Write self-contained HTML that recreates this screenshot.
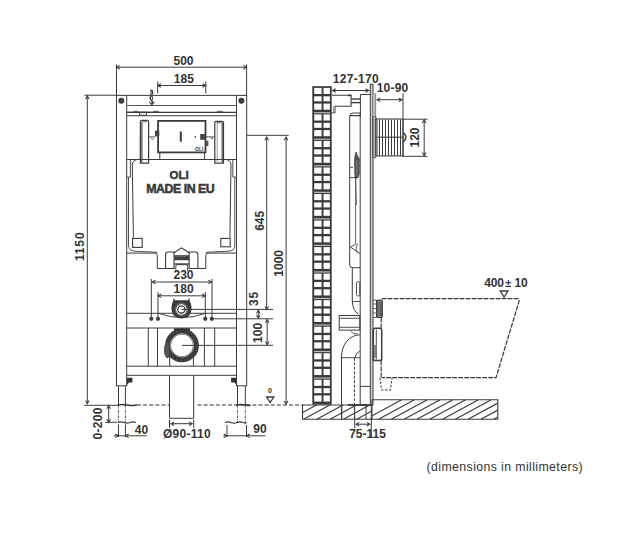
<!DOCTYPE html>
<html><head><meta charset="utf-8"><style>
html,body{margin:0;padding:0;background:#fff;}
svg{display:block;font-family:"Liberation Sans",sans-serif;}
</style></head><body>
<svg width="618" height="535" viewBox="0 0 618 535">
<rect width="618" height="535" fill="#fff"/>
<line x1="116.5" y1="64.4" x2="116.5" y2="95.5" stroke="#3c3c3c" stroke-width="1" />
<line x1="246.6" y1="64.4" x2="246.6" y2="95.5" stroke="#3c3c3c" stroke-width="1" />
<line x1="116.5" y1="67.2" x2="246.6" y2="67.2" stroke="#3c3c3c" stroke-width="1" />
<path d="M119.7,65.4 L116.5,67.2 L119.7,69.0" stroke="#3c3c3c" stroke-width="1.05" fill="none" />
<path d="M243.4,65.4 L246.6,67.2 L243.4,69.0" stroke="#3c3c3c" stroke-width="1.05" fill="none" />
<text x="183.5" y="65.4" font-size="12" font-weight="bold" text-anchor="middle" fill="#333" letter-spacing="0" >500</text>
<line x1="157.7" y1="81.5" x2="157.7" y2="93.5" stroke="#3c3c3c" stroke-width="1" />
<line x1="205.8" y1="81.5" x2="205.8" y2="93.5" stroke="#3c3c3c" stroke-width="1" />
<line x1="157.7" y1="85.5" x2="205.8" y2="85.5" stroke="#3c3c3c" stroke-width="1" />
<path d="M160.89999999999998,83.7 L157.7,85.5 L160.89999999999998,87.3" stroke="#3c3c3c" stroke-width="1.05" fill="none" />
<path d="M202.60000000000002,83.7 L205.8,85.5 L202.60000000000002,87.3" stroke="#3c3c3c" stroke-width="1.05" fill="none" />
<text x="183.8" y="82.6" font-size="12" font-weight="bold" text-anchor="middle" fill="#333" letter-spacing="0" >185</text>
<line x1="84.4" y1="95.2" x2="116.5" y2="95.2" stroke="#3c3c3c" stroke-width="1" />
<line x1="87.3" y1="95.8" x2="87.3" y2="403.8" stroke="#3c3c3c" stroke-width="1" />
<path d="M85.5,99.0 L87.3,95.8 L89.1,99.0" stroke="#3c3c3c" stroke-width="1.05" fill="none" />
<path d="M85.5,400.6 L87.3,403.8 L89.1,400.6" stroke="#3c3c3c" stroke-width="1.05" fill="none" />
<line x1="84.2" y1="405.3" x2="118" y2="405.3" stroke="#3c3c3c" stroke-width="1" />
<text x="84.4" y="246.3" font-size="12" font-weight="bold" text-anchor="middle" fill="#333" letter-spacing="0.9" transform="rotate(-90 84.4 246.3)" >1150</text>
<rect x="116.5" y="95.4" width="10.2" height="290.4" stroke="#3c3c3c" stroke-width="1" fill="none" />
<rect x="236.5" y="95.4" width="10.2" height="290.4" stroke="#3c3c3c" stroke-width="1" fill="none" />
<circle cx="121.3" cy="100.8" r="3" fill="#3c3c3c"/>
<circle cx="241.4" cy="100.8" r="3" fill="#3c3c3c"/>
<line x1="126.7" y1="95.4" x2="236.5" y2="95.4" stroke="#3c3c3c" stroke-width="1" />
<line x1="126.7" y1="105.5" x2="236.5" y2="105.5" stroke="#555" stroke-width="1" />
<line x1="126.7" y1="112.4" x2="236.5" y2="112.4" stroke="#3c3c3c" stroke-width="1.1" />
<line x1="126.7" y1="115.8" x2="236.5" y2="115.8" stroke="#3c3c3c" stroke-width="1.1" />
<path d="M150.3,90 Q154,91.5 152,94.5 Q149,97.5 151,100 Q153.5,102 151.8,104.3" stroke="#444" stroke-width="1.5" fill="none" />
<path d="M153,90.3 Q149.5,93 151.3,95.5 Q153.8,98 151.5,101" stroke="#555" stroke-width="1.2" fill="none" />
<path d="M149.3,101.8 L151.8,104.6 L154.3,101.8" stroke="#444" stroke-width="1.2" fill="none" />
<path d="M126.7,112.2 L132.8,112.2 Q133.2,111.3 135,111.3 L137,111.3 Q138.4,111.3 138.6,112.2 L152.7,112.2 Q153,111.3 155,111.3 L157,111.3 Q158.8,111.3 159,112.2" stroke="#3c3c3c" stroke-width="0.9" fill="none" />
<rect x="139.6" y="112.2" width="6.8" height="2.9" stroke="#3c3c3c" stroke-width="0.9" fill="none" />
<path d="M216.5,112.2 Q216.8,111.3 218.5,111.3 L221,111.3 Q222.6,111.3 222.8,112.2" stroke="#3c3c3c" stroke-width="0.9" fill="none" />
<path d="M140.4,163.1 L140.4,121.5 Q140.4,120.3 141.6,120.3 L147.4,120.3 Q148.6,120.3 148.6,121.5 L148.6,163.1 Z" stroke="#3c3c3c" stroke-width="1.2" fill="none" />
<line x1="141.9" y1="122" x2="141.9" y2="162.5" stroke="#3c3c3c" stroke-width="1.1" />
<path d="M142.2,121.8 L147,121.8" stroke="#3c3c3c" stroke-width="0.8" fill="none" />
<line x1="139.4" y1="136" x2="139.4" y2="160" stroke="#999" stroke-width="0.6" stroke-dasharray="1 1"/>
<path d="M214.8,163.1 L214.8,122.5 Q214.8,121.3 216,121.3 L222.3,121.3 Q223.5,121.3 223.5,122.5 L223.5,163.1 Z" stroke="#3c3c3c" stroke-width="1.2" fill="none" />
<line x1="222.2" y1="122.5" x2="222.2" y2="162.5" stroke="#3c3c3c" stroke-width="1.1" />
<line x1="217.2" y1="123" x2="217.2" y2="162" stroke="#777" stroke-width="0.7" />
<path d="M216.5,122.8 L221.5,122.8" stroke="#3c3c3c" stroke-width="0.8" fill="none" />
<rect x="158.1" y="120.9" width="47.4" height="31.5" stroke="#3c3c3c" stroke-width="1.8" fill="none" />
<line x1="159.8" y1="152.4" x2="159.8" y2="159.5" stroke="#3c3c3c" stroke-width="1" />
<line x1="204.6" y1="152.4" x2="204.6" y2="159.5" stroke="#3c3c3c" stroke-width="1" />
<line x1="126.7" y1="159.5" x2="236.5" y2="159.5" stroke="#3c3c3c" stroke-width="1" />
<line x1="180.8" y1="131.5" x2="180.8" y2="141.7" stroke="#3c3c3c" stroke-width="2" />
<rect x="155" y="130.6" width="4.3" height="5.8" stroke="#3c3c3c" stroke-width="0" fill="#444" />
<line x1="149.1" y1="136.9" x2="155" y2="136.9" stroke="#3c3c3c" stroke-width="0.9" />
<path d="M151.2,138.3 Q152.5,140.8 153.8,138.3" stroke="#3c3c3c" stroke-width="0.9" fill="none" />
<rect x="200.2" y="134" width="5.3" height="5.8" stroke="#3c3c3c" stroke-width="0" fill="#444" />
<line x1="205.5" y1="136.9" x2="214.8" y2="136.9" stroke="#3c3c3c" stroke-width="0.9" />
<path d="M210.5,137.8 Q211.8,140.2 213.1,137.8" stroke="#3c3c3c" stroke-width="0.9" fill="none" />
<rect x="206" y="140.8" width="2.4" height="5.2" stroke="#3c3c3c" stroke-width="0" fill="#555" />
<circle cx="195.3" cy="136.9" r="0.8" fill="#444"/>
<text x="199.2" y="150.6" font-size="5" font-weight="bold" text-anchor="middle" fill="#333" letter-spacing="0" >OLI</text>
<path d="M138.4,159.3 Q132.3,160 132.3,165 L133.4,237.5" stroke="#3c3c3c" stroke-width="1" fill="none" />
<path d="M225,159.3 Q231,160 231,165 L229.9,237.5" stroke="#3c3c3c" stroke-width="1" fill="none" />
<path d="M130.4,159.3 L130.4,177.1 L127,177.1" stroke="#3c3c3c" stroke-width="0.9" fill="none" />
<path d="M232.8,159.3 L232.8,177.1 L236.5,177.1" stroke="#3c3c3c" stroke-width="0.9" fill="none" />
<path d="M128.5,177.1 L128.5,245 Q128.5,251 135,251.2 L157.3,252.3" stroke="#3c3c3c" stroke-width="0.9" fill="none" />
<path d="M234.8,177.1 L234.8,245 Q234.8,251 228.3,251.2 L205.8,252.3" stroke="#3c3c3c" stroke-width="0.9" fill="none" />
<path d="M126.9,253.1 L155,253.1 Q157.3,253.1 157.3,255.5 L157.3,268.5 L175,268.5 M188.5,268.5 L205.8,268.5 L205.8,255.5 Q205.8,253.1 208,253.1 L236.5,253.1" stroke="#3c3c3c" stroke-width="1" fill="none" />
<rect x="132.6" y="238.4" width="9.6" height="9" stroke="#3c3c3c" stroke-width="1.1" fill="none" />
<rect x="220.8" y="238.4" width="9.4" height="8.4" stroke="#3c3c3c" stroke-width="1.1" fill="none" />
<path d="M165.6,268.5 L165.6,254.5 Q165.6,252 168,252 L174,252 L174,268.5" stroke="#3c3c3c" stroke-width="1.1" fill="none" />
<path d="M189.2,268.5 L189.2,252 L195.5,252 Q197.9,252 197.9,254.5 L197.9,268.5" stroke="#3c3c3c" stroke-width="1.1" fill="none" />
<path d="M174,252.7 L181.4,247.8 L189.2,252.7" stroke="#3c3c3c" stroke-width="1.1" fill="none" />
<rect x="174.3" y="255.2" width="14.7" height="5.3" stroke="#3c3c3c" stroke-width="0" fill="#404040" />
<line x1="176.5" y1="256.5" x2="187" y2="256.5" stroke="#999" stroke-width="0.6" stroke-dasharray="2 1.5"/>
<rect x="175.5" y="260.5" width="12.5" height="2.8" stroke="#3c3c3c" stroke-width="0" fill="#fff" />
<line x1="174.3" y1="264" x2="189" y2="264" stroke="#3c3c3c" stroke-width="1.4" />
<path d="M175.8,271 L175.8,266 Q175.8,264.7 177.5,264.7 L186,264.7 Q187.6,264.7 187.6,266 L187.6,271" stroke="#3c3c3c" stroke-width="0.9" fill="none" />
<text x="179.2" y="178.7" font-size="11.5" font-weight="bold" text-anchor="middle" fill="#3a3a3a" letter-spacing="0" stroke="#333" stroke-width="0.5">OLI</text>
<text x="180.3" y="192.5" font-size="12.4" font-weight="bold" text-anchor="middle" fill="#3a3a3a" letter-spacing="-0.5" stroke="#333" stroke-width="0.5">MADE IN EU</text>
<text x="183.5" y="278.5" font-size="12" font-weight="bold" text-anchor="middle" fill="#333" letter-spacing="0" >230</text>
<line x1="152.2" y1="282" x2="211.6" y2="282" stroke="#3c3c3c" stroke-width="1" />
<path d="M155.39999999999998,280.2 L152.2,282 L155.39999999999998,283.8" stroke="#3c3c3c" stroke-width="1.05" fill="none" />
<path d="M208.4,280.2 L211.6,282 L208.4,283.8" stroke="#3c3c3c" stroke-width="1.05" fill="none" />
<line x1="151.3" y1="279" x2="151.3" y2="318.8" stroke="#3c3c3c" stroke-width="1" />
<line x1="212" y1="279" x2="212" y2="318.8" stroke="#3c3c3c" stroke-width="1" />
<text x="183.6" y="293.3" font-size="12" font-weight="bold" text-anchor="middle" fill="#333" letter-spacing="0" >180</text>
<line x1="158" y1="295.8" x2="205.3" y2="295.8" stroke="#3c3c3c" stroke-width="1" />
<path d="M161.2,294.0 L158,295.8 L161.2,297.6" stroke="#3c3c3c" stroke-width="1.05" fill="none" />
<path d="M202.10000000000002,294.0 L205.3,295.8 L202.10000000000002,297.6" stroke="#3c3c3c" stroke-width="1.05" fill="none" />
<line x1="158" y1="292" x2="158" y2="318.8" stroke="#3c3c3c" stroke-width="1" />
<line x1="205.3" y1="292" x2="205.3" y2="318.8" stroke="#3c3c3c" stroke-width="1" />
<circle cx="151.3" cy="318.8" r="2.1" fill="#3c3c3c"/>
<circle cx="158" cy="318.8" r="2.1" fill="#3c3c3c"/>
<circle cx="205.3" cy="318.8" r="2.1" fill="#3c3c3c"/>
<circle cx="211.8" cy="318.8" r="2.1" fill="#3c3c3c"/>
<line x1="126.7" y1="313.3" x2="236.5" y2="313.3" stroke="#3c3c3c" stroke-width="1" />
<line x1="126.7" y1="328" x2="236.5" y2="328" stroke="#3c3c3c" stroke-width="1" />
<path d="M158.5,313.3 Q182,322 205.5,313.3" stroke="#3c3c3c" stroke-width="1" fill="none" />
<path d="M174,300.3 L189,300.3 Q191.2,302.5 191.5,307 Q191.8,313.5 188,316.5 Q185,318.4 181.5,318.4 Q178,318.4 175,316.5 Q171.2,313.5 171.5,307 Q171.8,302.5 174,300.3 Z" stroke="#3c3c3c" stroke-width="0" fill="#3a3a3a" />
<line x1="173.9" y1="298.8" x2="173.9" y2="302" stroke="#3c3c3c" stroke-width="1.3" />
<line x1="189" y1="298.8" x2="189" y2="302" stroke="#3c3c3c" stroke-width="1.3" />
<circle cx="181.4" cy="309.4" r="5.3" fill="#fff"/>
<circle cx="181.4" cy="309.4" r="3.6" fill="none" stroke="#3c3c3c" stroke-width="1.3"/>
<circle cx="181.4" cy="309.4" r="6.3" fill="none" stroke="#888" stroke-width="0.7"/>
<line x1="181.4" y1="309.4" x2="273" y2="309.4" stroke="#3c3c3c" stroke-width="1" />
<line x1="211.8" y1="318.8" x2="273" y2="318.8" stroke="#3c3c3c" stroke-width="1" />
<line x1="148.3" y1="328" x2="148.3" y2="366.2" stroke="#3c3c3c" stroke-width="1" />
<line x1="157.5" y1="328" x2="157.5" y2="366.2" stroke="#3c3c3c" stroke-width="1" />
<line x1="204.4" y1="328" x2="204.4" y2="366.2" stroke="#3c3c3c" stroke-width="1" />
<line x1="214.7" y1="328" x2="214.7" y2="366.2" stroke="#3c3c3c" stroke-width="1" />
<line x1="169.7" y1="356" x2="169.7" y2="366.2" stroke="#3c3c3c" stroke-width="1" />
<line x1="193.4" y1="356" x2="193.4" y2="366.2" stroke="#3c3c3c" stroke-width="1" />
<defs><clipPath id="cl2"><rect x="150" y="328.3" width="60" height="40"/></clipPath></defs>
<circle cx="182" cy="345.4" r="13.9" fill="none" stroke="#3a3a3a" stroke-width="6" clip-path="url(#cl2)"/>
<circle cx="182" cy="345.4" r="11.7" fill="none" stroke="#bbb" stroke-width="0.9"/>
<circle cx="182" cy="345.4" r="15" fill="none" stroke="#777" stroke-width="0.6" stroke-dasharray="1.5 2.5"/>
<path d="M168.5,340 Q163.5,345 164.5,352 Q165,357.5 168,358 L170,353 Z" stroke="#3c3c3c" stroke-width="0.8" fill="#555" />
<rect x="174" y="328.3" width="16" height="2.5" stroke="#3c3c3c" stroke-width="0" fill="#333" />
<line x1="182" y1="345.4" x2="273" y2="345.3" stroke="#3c3c3c" stroke-width="1" />
<line x1="126.7" y1="366.2" x2="236.5" y2="366.2" stroke="#3c3c3c" stroke-width="1" />
<line x1="126.7" y1="375.3" x2="236.5" y2="375.3" stroke="#3c3c3c" stroke-width="1" />
<path d="M127,377.8 L132.4,377.8 L132.4,382.6 L129,382.6 L127,385 Z" stroke="#3c3c3c" stroke-width="0" fill="#333" />
<path d="M236.5,377.8 L231.1,377.8 L231.1,382.6 L234.5,382.6 L236.5,385 Z" stroke="#3c3c3c" stroke-width="0" fill="#333" />
<path d="M169.5,375.3 L169.5,418.3 L193.7,418.3 L193.7,375.3" stroke="#3c3c3c" stroke-width="1" fill="none" />
<line x1="118.5" y1="385.8" x2="118.5" y2="405" stroke="#3c3c3c" stroke-width="1" />
<line x1="125.4" y1="385.8" x2="125.4" y2="405" stroke="#3c3c3c" stroke-width="1" />
<line x1="237.5" y1="385.8" x2="237.5" y2="405" stroke="#3c3c3c" stroke-width="1" />
<line x1="245.3" y1="385.8" x2="245.3" y2="405" stroke="#3c3c3c" stroke-width="1" />
<line x1="118.5" y1="405" x2="118.5" y2="423" stroke="#3c3c3c" stroke-width="0.9" stroke-dasharray="2.5 1 0.8 1"/>
<line x1="125.4" y1="405" x2="125.4" y2="423" stroke="#3c3c3c" stroke-width="0.9" stroke-dasharray="2.5 1 0.8 1"/>
<line x1="237.5" y1="405" x2="237.5" y2="423" stroke="#3c3c3c" stroke-width="0.9" stroke-dasharray="2.5 1 0.8 1"/>
<line x1="245.3" y1="405" x2="245.3" y2="423" stroke="#3c3c3c" stroke-width="0.9" stroke-dasharray="2.5 1 0.8 1"/>
<line x1="105" y1="422.3" x2="117" y2="422.3" stroke="#3c3c3c" stroke-width="1" />
<path d="M118,422.5 Q121,421.3 124,422.5 T130,422.5 T136,422.5" stroke="#3c3c3c" stroke-width="1.1" fill="none" />
<path d="M225,422.5 Q228,421.3 231,422.5 T237,422.5 T243,422.5 T247,422.5" stroke="#3c3c3c" stroke-width="1.1" fill="none" />
<line x1="137" y1="405" x2="169.5" y2="405" stroke="#333" stroke-width="1.2" stroke-dasharray="4 2.1"/>
<line x1="197.5" y1="405" x2="302.5" y2="405" stroke="#333" stroke-width="1.2" stroke-dasharray="4 2.1"/>
<path d="M117.7,405 Q122,404 127,405 T137,405" stroke="#3c3c3c" stroke-width="1.3" fill="none" />
<path d="M236,405 Q241,404 246,405 T250,405" stroke="#3c3c3c" stroke-width="1.3" fill="none" />
<line x1="108.7" y1="405.5" x2="108.7" y2="422.5" stroke="#3c3c3c" stroke-width="1" />
<path d="M106.9,408.7 L108.7,405.5 L110.5,408.7" stroke="#3c3c3c" stroke-width="1.05" fill="none" />
<path d="M106.9,419.3 L108.7,422.5 L110.5,419.3" stroke="#3c3c3c" stroke-width="1.05" fill="none" />
<text x="101.8" y="423.3" font-size="12" font-weight="bold" text-anchor="middle" fill="#333" letter-spacing="0.3" transform="rotate(-90 101.8 423.3)" >0-200</text>
<line x1="118.5" y1="424.4" x2="118.5" y2="437" stroke="#3c3c3c" stroke-width="1" />
<line x1="125.4" y1="424.4" x2="125.4" y2="437" stroke="#3c3c3c" stroke-width="1" />
<line x1="113.7" y1="435.8" x2="146.7" y2="435.8" stroke="#3c3c3c" stroke-width="1" />
<path d="M115.3,434.0 L118.5,435.8 L115.3,437.6" stroke="#3c3c3c" stroke-width="1.05" fill="none" />
<path d="M128.6,434.0 L125.4,435.8 L128.6,437.6" stroke="#3c3c3c" stroke-width="1.05" fill="none" />
<text x="141.5" y="433.7" font-size="12" font-weight="bold" text-anchor="middle" fill="#333" letter-spacing="0" >40</text>
<line x1="169.5" y1="419.7" x2="169.5" y2="428" stroke="#3c3c3c" stroke-width="1" />
<line x1="193.7" y1="419.7" x2="193.7" y2="428" stroke="#3c3c3c" stroke-width="1" />
<line x1="171" y1="423.7" x2="192.2" y2="423.7" stroke="#3c3c3c" stroke-width="1" />
<path d="M174.2,421.9 L171,423.7 L174.2,425.5" stroke="#3c3c3c" stroke-width="1.05" fill="none" />
<path d="M189.0,421.9 L192.2,423.7 L189.0,425.5" stroke="#3c3c3c" stroke-width="1.05" fill="none" />
<text x="187" y="438.3" font-size="12" font-weight="bold" text-anchor="middle" fill="#333" letter-spacing="0.3" >Ø90-110</text>
<line x1="227" y1="425" x2="227" y2="437" stroke="#3c3c3c" stroke-width="1" />
<line x1="246.5" y1="425" x2="246.5" y2="437" stroke="#3c3c3c" stroke-width="1" />
<line x1="223.3" y1="435.8" x2="265.5" y2="435.8" stroke="#3c3c3c" stroke-width="1" />
<path d="M223.8,434.0 L227,435.8 L223.8,437.6" stroke="#3c3c3c" stroke-width="1.05" fill="none" />
<path d="M249.7,434.0 L246.5,435.8 L249.7,437.6" stroke="#3c3c3c" stroke-width="1.05" fill="none" />
<text x="260" y="432.5" font-size="12" font-weight="bold" text-anchor="middle" fill="#333" letter-spacing="0" >90</text>
<path d="M266.6,397 L273.8,397 L270.2,402.6 Z" stroke="#3c3c3c" stroke-width="1.3" fill="none" />
<text x="270.1" y="393.2" font-size="7.2" font-weight="bold" text-anchor="middle" fill="#333" letter-spacing="0" >0</text>
<line x1="246.7" y1="135.3" x2="288.7" y2="135.3" stroke="#3c3c3c" stroke-width="1" />
<line x1="266.7" y1="137" x2="266.7" y2="309.7" stroke="#3c3c3c" stroke-width="1" />
<path d="M264.9,140.2 L266.7,137 L268.5,140.2" stroke="#3c3c3c" stroke-width="1.05" fill="none" />
<path d="M264.9,306.5 L266.7,309.7 L268.5,306.5" stroke="#3c3c3c" stroke-width="1.05" fill="none" />
<line x1="286.1" y1="137" x2="286.1" y2="404.2" stroke="#3c3c3c" stroke-width="1" />
<path d="M284.3,140.2 L286.1,137 L287.90000000000003,140.2" stroke="#3c3c3c" stroke-width="1.05" fill="none" />
<path d="M284.3,401.0 L286.1,404.2 L287.90000000000003,401.0" stroke="#3c3c3c" stroke-width="1.05" fill="none" />
<line x1="258.3" y1="310.3" x2="258.3" y2="318.2" stroke="#3c3c3c" stroke-width="1" />
<path d="M256.5,313.5 L258.3,310.3 L260.1,313.5" stroke="#3c3c3c" stroke-width="1.05" fill="none" />
<path d="M256.5,315.0 L258.3,318.2 L260.1,315.0" stroke="#3c3c3c" stroke-width="1.05" fill="none" />
<line x1="267.2" y1="319.5" x2="267.2" y2="344.8" stroke="#3c3c3c" stroke-width="1" />
<path d="M265.4,322.7 L267.2,319.5 L269.0,322.7" stroke="#3c3c3c" stroke-width="1.05" fill="none" />
<path d="M265.4,341.6 L267.2,344.8 L269.0,341.6" stroke="#3c3c3c" stroke-width="1.05" fill="none" />
<text x="263.8" y="220.8" font-size="12" font-weight="bold" text-anchor="middle" fill="#333" letter-spacing="0" transform="rotate(-90 263.8 220.8)" >645</text>
<text x="283.4" y="263.3" font-size="12" font-weight="bold" text-anchor="middle" fill="#333" letter-spacing="0" transform="rotate(-90 283.4 263.3)" >1000</text>
<text x="258.1" y="298.4" font-size="12" font-weight="bold" text-anchor="middle" fill="#333" letter-spacing="1" transform="rotate(-90 258.1 298.4)" >35</text>
<text x="262.3" y="332.9" font-size="12" font-weight="bold" text-anchor="middle" fill="#333" letter-spacing="0" transform="rotate(-90 262.3 332.9)" >100</text>
<rect x="313.15000000000003" y="87.05" width="17.699999999999978" height="316.70000000000005" fill="#3a3a3a" stroke="#3a3a3a" stroke-width="1.7"/>
<rect x="314.2" y="87.90" width="7.40" height="6.10" fill="#fff"/>
<rect x="323.5" y="87.90" width="6.40" height="6.10" fill="#fff"/>
<rect x="314.2" y="96.30" width="7.40" height="5.00" fill="#fff"/>
<rect x="323.5" y="96.30" width="6.40" height="5.00" fill="#fff"/>
<rect x="314.2" y="103.60" width="7.40" height="6.10" fill="#fff"/>
<rect x="323.5" y="103.60" width="6.40" height="6.10" fill="#fff"/>
<rect x="314.2" y="114.43" width="7.40" height="6.10" fill="#fff"/>
<rect x="323.5" y="114.43" width="6.40" height="6.10" fill="#fff"/>
<rect x="314.2" y="122.83" width="7.40" height="5.00" fill="#fff"/>
<rect x="323.5" y="122.83" width="6.40" height="5.00" fill="#fff"/>
<rect x="314.2" y="130.13" width="7.40" height="6.10" fill="#fff"/>
<rect x="323.5" y="130.13" width="6.40" height="6.10" fill="#fff"/>
<rect x="314.0" y="112.13" width="16.00" height="1.2" fill="#bbb"/>
<rect x="314.2" y="140.97" width="7.40" height="6.10" fill="#fff"/>
<rect x="323.5" y="140.97" width="6.40" height="6.10" fill="#fff"/>
<rect x="314.2" y="149.37" width="7.40" height="5.00" fill="#fff"/>
<rect x="323.5" y="149.37" width="6.40" height="5.00" fill="#fff"/>
<rect x="314.2" y="156.67" width="7.40" height="6.10" fill="#fff"/>
<rect x="323.5" y="156.67" width="6.40" height="6.10" fill="#fff"/>
<rect x="314.0" y="138.67" width="16.00" height="1.2" fill="#bbb"/>
<rect x="314.2" y="167.50" width="7.40" height="6.10" fill="#fff"/>
<rect x="323.5" y="167.50" width="6.40" height="6.10" fill="#fff"/>
<rect x="314.2" y="175.90" width="7.40" height="5.00" fill="#fff"/>
<rect x="323.5" y="175.90" width="6.40" height="5.00" fill="#fff"/>
<rect x="314.2" y="183.20" width="7.40" height="6.10" fill="#fff"/>
<rect x="323.5" y="183.20" width="6.40" height="6.10" fill="#fff"/>
<rect x="314.0" y="165.20" width="16.00" height="1.2" fill="#bbb"/>
<rect x="314.2" y="194.03" width="7.40" height="6.10" fill="#fff"/>
<rect x="323.5" y="194.03" width="6.40" height="6.10" fill="#fff"/>
<rect x="314.2" y="202.43" width="7.40" height="5.00" fill="#fff"/>
<rect x="323.5" y="202.43" width="6.40" height="5.00" fill="#fff"/>
<rect x="314.2" y="209.73" width="7.40" height="6.10" fill="#fff"/>
<rect x="323.5" y="209.73" width="6.40" height="6.10" fill="#fff"/>
<rect x="314.0" y="191.73" width="16.00" height="1.2" fill="#bbb"/>
<rect x="314.2" y="220.57" width="7.40" height="6.10" fill="#fff"/>
<rect x="323.5" y="220.57" width="6.40" height="6.10" fill="#fff"/>
<rect x="314.2" y="228.97" width="7.40" height="5.00" fill="#fff"/>
<rect x="323.5" y="228.97" width="6.40" height="5.00" fill="#fff"/>
<rect x="314.2" y="236.27" width="7.40" height="6.10" fill="#fff"/>
<rect x="323.5" y="236.27" width="6.40" height="6.10" fill="#fff"/>
<rect x="314.0" y="218.27" width="16.00" height="1.2" fill="#bbb"/>
<rect x="314.2" y="247.10" width="7.40" height="6.10" fill="#fff"/>
<rect x="323.5" y="247.10" width="6.40" height="6.10" fill="#fff"/>
<rect x="314.2" y="255.50" width="7.40" height="5.00" fill="#fff"/>
<rect x="323.5" y="255.50" width="6.40" height="5.00" fill="#fff"/>
<rect x="314.2" y="262.80" width="7.40" height="6.10" fill="#fff"/>
<rect x="323.5" y="262.80" width="6.40" height="6.10" fill="#fff"/>
<rect x="314.0" y="244.80" width="16.00" height="1.2" fill="#bbb"/>
<rect x="314.2" y="273.63" width="7.40" height="6.10" fill="#fff"/>
<rect x="323.5" y="273.63" width="6.40" height="6.10" fill="#fff"/>
<rect x="314.2" y="282.03" width="7.40" height="5.00" fill="#fff"/>
<rect x="323.5" y="282.03" width="6.40" height="5.00" fill="#fff"/>
<rect x="314.2" y="289.33" width="7.40" height="6.10" fill="#fff"/>
<rect x="323.5" y="289.33" width="6.40" height="6.10" fill="#fff"/>
<rect x="314.0" y="271.33" width="16.00" height="1.2" fill="#bbb"/>
<rect x="314.2" y="300.17" width="7.40" height="6.10" fill="#fff"/>
<rect x="323.5" y="300.17" width="6.40" height="6.10" fill="#fff"/>
<rect x="314.2" y="308.57" width="7.40" height="5.00" fill="#fff"/>
<rect x="323.5" y="308.57" width="6.40" height="5.00" fill="#fff"/>
<rect x="314.2" y="315.87" width="7.40" height="6.10" fill="#fff"/>
<rect x="323.5" y="315.87" width="6.40" height="6.10" fill="#fff"/>
<rect x="314.0" y="297.87" width="16.00" height="1.2" fill="#bbb"/>
<rect x="314.2" y="326.70" width="7.40" height="6.10" fill="#fff"/>
<rect x="323.5" y="326.70" width="6.40" height="6.10" fill="#fff"/>
<rect x="314.2" y="335.10" width="7.40" height="5.00" fill="#fff"/>
<rect x="323.5" y="335.10" width="6.40" height="5.00" fill="#fff"/>
<rect x="314.2" y="342.40" width="7.40" height="6.10" fill="#fff"/>
<rect x="323.5" y="342.40" width="6.40" height="6.10" fill="#fff"/>
<rect x="314.0" y="324.40" width="16.00" height="1.2" fill="#bbb"/>
<rect x="314.2" y="353.23" width="7.40" height="6.10" fill="#fff"/>
<rect x="323.5" y="353.23" width="6.40" height="6.10" fill="#fff"/>
<rect x="314.2" y="361.63" width="7.40" height="5.00" fill="#fff"/>
<rect x="323.5" y="361.63" width="6.40" height="5.00" fill="#fff"/>
<rect x="314.2" y="368.93" width="7.40" height="6.10" fill="#fff"/>
<rect x="323.5" y="368.93" width="6.40" height="6.10" fill="#fff"/>
<rect x="314.0" y="350.93" width="16.00" height="1.2" fill="#bbb"/>
<rect x="314.2" y="379.77" width="7.40" height="6.10" fill="#fff"/>
<rect x="323.5" y="379.77" width="6.40" height="6.10" fill="#fff"/>
<rect x="314.2" y="388.17" width="7.40" height="5.00" fill="#fff"/>
<rect x="323.5" y="388.17" width="6.40" height="5.00" fill="#fff"/>
<rect x="314.2" y="395.47" width="7.40" height="6.10" fill="#fff"/>
<rect x="323.5" y="395.47" width="6.40" height="6.10" fill="#fff"/>
<rect x="314.0" y="377.47" width="16.00" height="1.2" fill="#bbb"/>
<line x1="332.5" y1="90.5" x2="368.7" y2="90.5" stroke="#3c3c3c" stroke-width="1" />
<path d="M335.7,88.7 L332.5,90.5 L335.7,92.3" stroke="#3c3c3c" stroke-width="1.05" fill="none" />
<path d="M365.5,88.7 L368.7,90.5 L365.5,92.3" stroke="#3c3c3c" stroke-width="1.05" fill="none" />
<text x="355.8" y="82.5" font-size="12" font-weight="bold" text-anchor="middle" fill="#333" letter-spacing="0.3" >127-170</text>
<rect x="370.3" y="84.2" width="2.7" height="320.8" stroke="#3c3c3c" stroke-width="1" fill="#d0d0d0" />
<line x1="375.6" y1="93.3" x2="375.6" y2="117" stroke="#3c3c3c" stroke-width="1" />
<line x1="377" y1="99.7" x2="402" y2="99.7" stroke="#3c3c3c" stroke-width="1" />
<path d="M380.2,97.9 L377,99.7 L380.2,101.5" stroke="#3c3c3c" stroke-width="1.05" fill="none" />
<path d="M398.8,97.9 L402,99.7 L398.8,101.5" stroke="#3c3c3c" stroke-width="1.05" fill="none" />
<line x1="403" y1="93.3" x2="403" y2="156.7" stroke="#3c3c3c" stroke-width="1" />
<text x="392.6" y="91.7" font-size="12" font-weight="bold" text-anchor="middle" fill="#333" letter-spacing="0.2" >10-90</text>
<rect x="372.9" y="116.2" width="3" height="41.6" stroke="#3c3c3c" stroke-width="1" fill="#bbb" rx="1"/>
<rect x="375.9" y="119" width="27.1" height="36.9" stroke="#3c3c3c" stroke-width="1.1" fill="none" />
<line x1="375.9" y1="137.2" x2="403" y2="137.2" stroke="#3c3c3c" stroke-width="1.1" />
<line x1="379.5" y1="119.5" x2="379.5" y2="155.5" stroke="#3c3c3c" stroke-width="1" />
<line x1="382.5" y1="119.5" x2="382.5" y2="155.5" stroke="#3c3c3c" stroke-width="1" />
<line x1="385.5" y1="119.5" x2="385.5" y2="155.5" stroke="#3c3c3c" stroke-width="1" />
<line x1="388.5" y1="119.5" x2="388.5" y2="155.5" stroke="#3c3c3c" stroke-width="1" />
<line x1="391.5" y1="119.5" x2="391.5" y2="155.5" stroke="#3c3c3c" stroke-width="1" />
<line x1="394.5" y1="119.5" x2="394.5" y2="155.5" stroke="#3c3c3c" stroke-width="1" />
<line x1="397.5" y1="119.5" x2="397.5" y2="155.5" stroke="#3c3c3c" stroke-width="1" />
<line x1="400.5" y1="119.5" x2="400.5" y2="155.5" stroke="#3c3c3c" stroke-width="1" />
<line x1="377.5" y1="119.5" x2="377.5" y2="155.5" stroke="#999" stroke-width="1" />
<line x1="403" y1="119.2" x2="427.5" y2="119.2" stroke="#3c3c3c" stroke-width="1" />
<line x1="403" y1="156.3" x2="427.5" y2="156.3" stroke="#3c3c3c" stroke-width="1" />
<line x1="424.2" y1="119.8" x2="424.2" y2="155.7" stroke="#3c3c3c" stroke-width="1" />
<path d="M422.4,123.0 L424.2,119.8 L426.0,123.0" stroke="#3c3c3c" stroke-width="1.05" fill="none" />
<path d="M422.4,152.5 L424.2,155.7 L426.0,152.5" stroke="#3c3c3c" stroke-width="1.05" fill="none" />
<text x="418.9" y="137.5" font-size="12" font-weight="bold" text-anchor="middle" fill="#333" letter-spacing="0" transform="rotate(-90 418.9 137.5)" >120</text>
<path d="M403.2,132.5 L405,134.5 Q406.8,137.2 405,140 L403.2,142" stroke="#3c3c3c" stroke-width="1.4" fill="none" />
<path d="M331.7,95.3 L351.1,95.3 L351.1,106.2 L334.9,106.2 L334.9,112.7 L331.7,112.7" stroke="#3c3c3c" stroke-width="1.1" fill="none" />
<rect x="333" y="106.5" width="2" height="6" stroke="#3c3c3c" stroke-width="0" fill="#999" />
<rect x="348" y="94.6" width="3" height="1.6" stroke="#3c3c3c" stroke-width="0" fill="#333" />
<line x1="351.1" y1="99" x2="360.4" y2="99" stroke="#3c3c3c" stroke-width="1.4" />
<line x1="351.1" y1="102.6" x2="360.4" y2="102.6" stroke="#3c3c3c" stroke-width="1.4" />
<path d="M360.4,117 L360.4,94.5 L370.3,94.5" stroke="#3c3c3c" stroke-width="1" fill="none" />
<rect x="373" y="93.3" width="2.6" height="23" stroke="#3c3c3c" stroke-width="0" fill="#bbb" />
<path d="M349.7,117 Q349.7,113 353,113 L360.2,113" stroke="#3c3c3c" stroke-width="1" fill="none" />
<line x1="349.7" y1="115.6" x2="360.2" y2="115.6" stroke="#3c3c3c" stroke-width="1.2" />
<path d="M349.7,117 L349.7,265 Q349.7,267.7 352.5,267.7 L360.2,267.7" stroke="#3c3c3c" stroke-width="1" fill="none" />
<line x1="360.2" y1="113" x2="360.2" y2="405" stroke="#3c3c3c" stroke-width="1" />
<line x1="355.6" y1="178" x2="355.6" y2="244.3" stroke="#3c3c3c" stroke-width="0.8" />
<path d="M355.6,244.3 L350.4,247.1 L360,253.7" stroke="#3c3c3c" stroke-width="0.9" fill="none" />
<path d="M357.5,243.5 Q354.5,248.5 357.5,253" stroke="#3c3c3c" stroke-width="0.8" fill="none" />
<line x1="349.7" y1="167.3" x2="353" y2="167.3" stroke="#3c3c3c" stroke-width="0.9" />
<line x1="349.7" y1="177.6" x2="355" y2="177.6" stroke="#3c3c3c" stroke-width="0.9" />
<path d="M355,178 L354.6,161 Q354.8,155 356,152 L357.3,155.5 L359.2,158.5 L359.2,174 L357.8,178 Z" stroke="#3c3c3c" stroke-width="0.8" fill="#555" />
<line x1="356.8" y1="160" x2="356.8" y2="176" stroke="#aaa" stroke-width="0.6" />
<line x1="355.6" y1="178" x2="356.5" y2="205" stroke="#3c3c3c" stroke-width="0.7" />
<path d="M352.3,267.7 L352.3,301.5 Q353,311 358.4,314.1" stroke="#3c3c3c" stroke-width="1" fill="none" />
<line x1="352.3" y1="301.5" x2="360.2" y2="301.5" stroke="#3c3c3c" stroke-width="0.9" />
<rect x="356.5" y="281.9" width="3.3" height="14" stroke="#3c3c3c" stroke-width="0.9" fill="none" rx="1.2"/>
<rect x="339.2" y="315.5" width="20.6" height="14.6" stroke="#3c3c3c" stroke-width="1" fill="none" />
<line x1="339.2" y1="318.3" x2="359.8" y2="318.3" stroke="#3c3c3c" stroke-width="0.9" />
<line x1="339.2" y1="327.3" x2="359.8" y2="327.3" stroke="#3c3c3c" stroke-width="0.9" />
<path d="M341.5,419 L341.5,356.8 A18.3,22 0 0 1 359.8,334.8" stroke="#3c3c3c" stroke-width="1" fill="none" />
<path d="M350.5,330.5 L353,333.5 L358,334" stroke="#3c3c3c" stroke-width="0.8" fill="none" />
<line x1="341.5" y1="357.7" x2="360.2" y2="357.7" stroke="#3c3c3c" stroke-width="0.9" />
<path d="M355.1,357.7 Q355.5,352.5 359.8,351.2" stroke="#3c3c3c" stroke-width="0.9" fill="none" />
<path d="M354.4,357.7 L354.4,419" stroke="#3c3c3c" stroke-width="1" fill="none" stroke-dasharray="3 1.5"/>
<line x1="360.2" y1="386.4" x2="370.3" y2="386.4" stroke="#3c3c3c" stroke-width="1" />
<path d="M373.3,300.1 L376.5,300.1 L376.5,317.4 L373.3,317.4" stroke="#3c3c3c" stroke-width="0.9" fill="none" />
<line x1="373.3" y1="304" x2="376.5" y2="304" stroke="#3c3c3c" stroke-width="0.8" />
<line x1="373.3" y1="308.5" x2="376.5" y2="308.5" stroke="#3c3c3c" stroke-width="0.8" />
<line x1="373.3" y1="313" x2="376.5" y2="313" stroke="#3c3c3c" stroke-width="0.8" />
<rect x="377" y="300.1" width="5.2" height="17.3" stroke="#3c3c3c" stroke-width="1.4" fill="#aaa" rx="1.5"/>
<line x1="379" y1="301.5" x2="379" y2="316" stroke="#3c3c3c" stroke-width="1" />
<line x1="380.8" y1="301.5" x2="380.8" y2="316" stroke="#3c3c3c" stroke-width="1" />
<rect x="373.3" y="328.3" width="8.4" height="32.2" stroke="#3c3c3c" stroke-width="1.5" fill="none" rx="1.8"/>
<path d="M376.3,329.5 L376.3,359.5" stroke="#3c3c3c" stroke-width="0.9" fill="none" />
<rect x="373.8" y="345" width="2.4" height="13" stroke="#3c3c3c" stroke-width="0" fill="#888" />
<path d="M381.7,298.6 L517,298.6 Q519.8,298.6 519,301.5 L496,377.6 L381.7,377.6" stroke="#3a3a3a" stroke-width="1.25" fill="none" stroke-dasharray="4.8 1.2"/>
<line x1="381.2" y1="317.5" x2="381.2" y2="328" stroke="#3c3c3c" stroke-width="1.2" stroke-dasharray="4.8 1.2"/>
<line x1="381.2" y1="360.5" x2="381.2" y2="377.6" stroke="#3c3c3c" stroke-width="1.2" stroke-dasharray="4.8 1.2"/>
<path d="M380,377.6 L381.5,390 L390.5,390 L392,377.6" stroke="#3c3c3c" stroke-width="1" fill="none" stroke-dasharray="2.5 1.5"/>
<text x="484.2" y="287" font-size="12" font-weight="bold" text-anchor="start" fill="#333" letter-spacing="-0.2" >400</text>
<text x="508.3" y="287" font-size="11" font-weight="bold" text-anchor="middle" fill="#333" letter-spacing="0" >±</text>
<text x="514.6" y="287" font-size="12" font-weight="bold" text-anchor="start" fill="#333" letter-spacing="-0.2" >10</text>
<path d="M500.3,291 L508,291 L504.1,297 Z" stroke="#3c3c3c" stroke-width="1.3" fill="none" />
<defs><clipPath id="cl1"><path d="M302.5,405 L372,405 L372,399.7 L497.8,399.7 L497.8,419.3 L302.5,419.3 Z"/></clipPath></defs>
<defs><clipPath id="cl3"><rect x="302.5" y="405" width="69.5" height="14.3"/></clipPath><clipPath id="cl4"><rect x="372" y="399.7" width="125.8" height="19.6"/></clipPath></defs>
<path d="M365.7,419.3 L401.7,399.7 M378.5,419.3 L414.5,399.7 M391.3,419.3 L427.3,399.7 M404.1,419.3 L440.1,399.7 M416.9,419.3 L452.9,399.7 M429.7,419.3 L465.7,399.7 M442.5,419.3 L478.5,399.7 M455.3,419.3 L491.3,399.7 M468.1,419.3 L504.1,399.7 M480.9,419.3 L516.9,399.7 M493.7,419.3 L529.7,399.7 M506.5,419.3 L542.5,399.7 M519.3,419.3 L555.3,399.7 M532.1,419.3 L568.1,399.7 M544.9,419.3 L580.9,399.7" stroke="#3c3c3c" stroke-width="1.15" clip-path="url(#cl4)"/>
<path d="M263.6,419.3 L299.6,399.7 M276.9,419.3 L312.9,399.7 M290.2,419.3 L326.2,399.7 M303.5,419.3 L339.5,399.7 M316.8,419.3 L352.8,399.7 M330.1,419.3 L366.1,399.7 M343.4,419.3 L379.4,399.7 M356.7,419.3 L392.7,399.7 M370.0,419.3 L406.0,399.7 M383.3,419.3 L419.3,399.7 M396.6,419.3 L432.6,399.7" stroke="#3c3c3c" stroke-width="1.15" clip-path="url(#cl3)"/>
<path d="M302.5,405 L372,405 L372,399.7 L497.8,399.7 L497.8,419.3 L302.5,419.3 Z" stroke="#3c3c3c" stroke-width="1.1" fill="none" />
<line x1="348" y1="405" x2="372" y2="405" stroke="#3c3c3c" stroke-width="1.8" />
<line x1="341.8" y1="405" x2="341.8" y2="419.3" stroke="#3c3c3c" stroke-width="1" />
<line x1="366" y1="405" x2="366" y2="419.3" stroke="#3c3c3c" stroke-width="1" />
<line x1="372" y1="405" x2="372" y2="419.3" stroke="#3c3c3c" stroke-width="1" />
<line x1="354.7" y1="405" x2="354.7" y2="428" stroke="#3c3c3c" stroke-width="1" />
<line x1="371.3" y1="405" x2="371.3" y2="438" stroke="#3c3c3c" stroke-width="1" />
<line x1="356" y1="424.2" x2="370" y2="424.2" stroke="#3c3c3c" stroke-width="1" />
<path d="M359.2,422.4 L356,424.2 L359.2,426.0" stroke="#3c3c3c" stroke-width="1.05" fill="none" />
<path d="M366.8,422.4 L370,424.2 L366.8,426.0" stroke="#3c3c3c" stroke-width="1.05" fill="none" />
<text x="367.5" y="438.3" font-size="12" font-weight="bold" text-anchor="middle" fill="#333" letter-spacing="0" >75-115</text>
<text x="504.8" y="471" font-size="12.3" font-weight="normal" text-anchor="middle" fill="#333" letter-spacing="0.4" >(dimensions in millimeters)</text>
</svg></body></html>
